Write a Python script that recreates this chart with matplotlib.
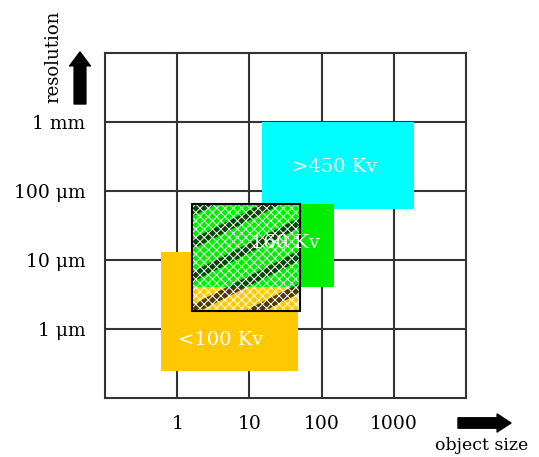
import numpy as np
import matplotlib.pyplot as plt
from matplotlib.patches import Rectangle

plt.rcParams['font.family'] = ['DejaVu Serif']
plt.rcParams['hatch.linewidth'] = 0.7

# object size decades (x) and resolution in micrometres (y)
xticks = [1, 10, 100, 1000]
xlabels = ['1', '10', '100', '1000']
yticks = [1, 10, 100, 1000]
ylabels = ['1 μm', '10 μm', '100 μm', '1 mm']

# source ranges: (x_min, x_max), (y_min, y_max)
src_names = ['<100 Kv', '160 Kv', '>450 Kv']
src_x = [(0.6, 47), (1.6, 150), (15, 1900)]
src_y = [(0.25, 13), (4, 65), (55, 1000)]
src_colors = ['#ffc800', '#00ee00', '#00ffff']

# overlap region (hatched square)
hatch_x = (1.6, 50)
hatch_y = (1.8, 65)

fig = plt.figure(figsize=(5.39, 4.57), dpi=100)
ax = fig.add_axes([0.1948, 0.1291, 0.6698, 0.755])
ax.set_xscale('log')
ax.set_yscale('log')
ax.set_xlim(0.1, 10000)
ax.set_ylim(0.1, 10000)

ax.set_xticks(xticks)
ax.set_xticklabels(xlabels)
ax.set_yticks(yticks)
ax.set_yticklabels(ylabels)
ax.minorticks_off()
ax.tick_params(length=0, labelsize=13.5, pad=12)
ax.tick_params(axis='y', pad=14)
ax.grid(True, color='#333333', lw=1.5, zorder=1)
ax.set_axisbelow(True)
for s in ax.spines.values():
    s.set_color('#333333')
    s.set_linewidth(1.5)

# colored source boxes (cyan first, then orange, then green on top)
for i in [2, 0, 1]:
    x0, x1 = src_x[i]
    y0, y1 = src_y[i]
    ax.add_patch(Rectangle((x0, y0), x1 - x0, y1 - y0, facecolor=src_colors[i],
                           edgecolor='none', zorder=2))

# hatched overlap square
hx0, hx1 = hatch_x
hy0, hy1 = hatch_y
sq = Rectangle((hx0, hy0), hx1 - hx0, hy1 - hy0, facecolor='none',
               edgecolor='none', zorder=3)
ax.add_patch(sq)
# dark diagonal bands, clipped to the square
xs = np.array([0.2, 0.6])
for c in np.arange(0.16, 0.70, 0.095):
    ln, = ax.plot(xs, 0.53 * (xs - 0.24) + c, transform=ax.transAxes,
                  color='black', alpha=0.7, lw=6.5, solid_capstyle='butt', zorder=3)
    ln.set_clip_path(sq)
ax.add_patch(Rectangle((hx0, hy0), hx1 - hx0, hy1 - hy0, facecolor='none',
                       edgecolor='white', lw=0, hatch='xxxx', zorder=4))
ax.add_patch(Rectangle((hx0, hy0), hx1 - hx0, hy1 - hy0, facecolor='none',
                       edgecolor='black', lw=1.5, zorder=5))

# labels inside boxes
label_pos = [(0.319, 0.168), (0.499, 0.449), (0.637, 0.670)]
for name, (tx, ty) in zip(src_names, label_pos):
    ax.text(tx, ty, name, transform=ax.transAxes, color='white', fontsize=14,
            ha='center', va='center', zorder=6)

# axis titles with arrows
fig.text(53 / 539, 1 - 57 / 457, 'resolution', rotation=90, fontsize=13,
         ha='center', va='center')
fig.text(482 / 539, 1 - 446 / 457, 'object size', fontsize=12.5,
         ha='center', va='center')
ax.annotate('', xy=(80, 457 - 52), xytext=(80, 457 - 104), xycoords='figure pixels',
            arrowprops=dict(arrowstyle='simple,head_width=1.5,head_length=1.0,tail_width=0.85',
                            color='black', mutation_scale=10, shrinkA=0, shrinkB=0))
ax.annotate('', xy=(511, 457 - 423), xytext=(458, 457 - 423), xycoords='figure pixels',
            arrowprops=dict(arrowstyle='simple,head_width=1.3,head_length=1.0,tail_width=0.75',
                            color='black', mutation_scale=10, shrinkA=0, shrinkB=0))

fig.savefig('out.png', dpi=100)
